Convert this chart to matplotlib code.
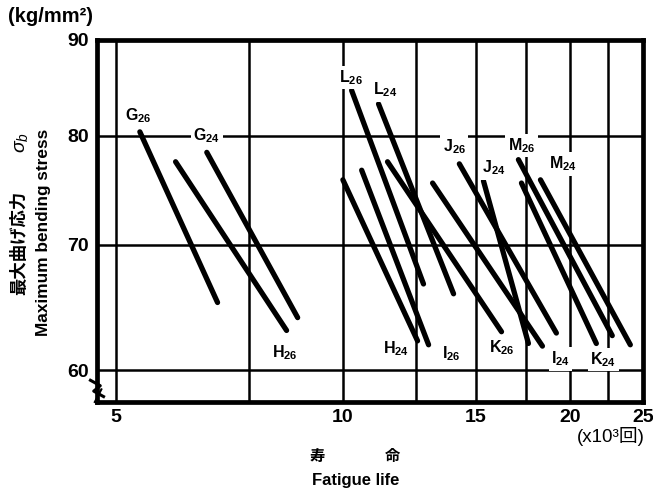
import numpy as np
import matplotlib.pyplot as plt
from matplotlib.ticker import NullFormatter, FixedLocator

plt.rcParams['font.family'] = ['Liberation Sans', 'Noto Sans CJK JP']
plt.rcParams['mathtext.default'] = 'regular'

# fatigue life (x10^3 cycles) and bending stress (kg/mm2) at both ends of each line
names = ['G26', 'G24', 'H26', 'L26', 'L24', 'H24', 'I26',
         'K26', 'I24', 'J26', 'J24', 'M26', 'K24', 'M24']
life_start = [5.38, 6.60, 6.00, 10.27, 11.15, 10.0, 10.59,
              11.46, 13.15, 14.27, 15.36, 17.09, 17.25, 18.28]
life_end = [6.82, 8.71, 8.42, 12.79, 14.02, 12.56, 12.99,
            16.23, 18.39, 19.19, 17.62, 22.76, 21.68, 24.05]
stress_start = [80.4, 78.4, 77.5, 84.6, 83.2, 75.8, 76.7,
                77.5, 75.5, 77.3, 75.7, 77.7, 75.5, 75.8]
stress_end = [65.2, 64.0, 63.0, 66.7, 65.9, 62.2, 61.9,
              62.9, 61.8, 62.8, 62.0, 62.6, 62.0, 61.9]

x_ticks = [5, 10, 15, 20, 25]
x_minor = [7.5, 12.5, 17.5, 22.5]
y_ticks = [60, 70, 80, 90]

# where the label sits: at the line's start or end, offset in pixels
label_pos = {
    'G26': ('start', -2, 16), 'G24': ('start', 0, 17), 'H26': ('end', -2, -22),
    'L26': ('start', -1, 13), 'L24': ('start', 7, 14), 'J26': ('start', -5, 17),
    'J24': ('start', 10, 13), 'M26': ('start', 3, 14), 'M24': ('start', 22, 16),
    'H24': ('end', -22, -8), 'I26': ('end', 23, -9), 'K26': ('end', 0, -16),
    'I24': ('end', 18, -13), 'K24': ('end', 7, -16),
}

fig = plt.figure(figsize=(6.53, 4.93), dpi=100)
ax = fig.add_axes([97 / 653, 91 / 493, 546 / 653, 362 / 493])
ax.set_xscale('log')
ax.set_yscale('log')
ax.set_xlim(4.72, 25)
ax.set_ylim(57.7, 90)

ax.xaxis.set_major_locator(FixedLocator(x_ticks))
ax.xaxis.set_minor_locator(FixedLocator(x_minor))
ax.set_xticklabels([str(t) for t in x_ticks], fontweight='bold')
ax.xaxis.set_minor_formatter(NullFormatter())
ax.yaxis.set_major_locator(FixedLocator(y_ticks))
ax.yaxis.set_minor_locator(FixedLocator([]))
ax.set_yticklabels([str(t) for t in y_ticks], fontweight='bold')
ax.yaxis.set_minor_formatter(NullFormatter())
ax.tick_params(which='both', length=0, labelsize=14)
ax.tick_params(axis='y', pad=6)
ax.tick_params(axis='x', pad=5)

ax.grid(True, which='both', color='black', linewidth=1.8)
ax.set_axisbelow(True)
for sp in ax.spines.values():
    sp.set_linewidth(3.4)

for i, name in enumerate(names):
    ax.plot([life_start[i], life_end[i]], [stress_start[i], stress_end[i]],
            color='black', linewidth=3.8, solid_capstyle='round', zorder=3)
    where, dx, dy = label_pos[name]
    if where == 'start':
        xy = (life_start[i], stress_start[i])
    else:
        xy = (life_end[i], stress_end[i])
    ax.annotate(name[0] + '$_{' + name[1:] + '}$', xy=xy, xytext=(dx, dy),
                textcoords='offset pixels', ha='center', va='center',
                fontsize=11.5, fontweight='bold', zorder=4,
                bbox=dict(boxstyle='square,pad=0.15', facecolor='white', edgecolor='none'))

# axis break mark at the lower left corner
ax.plot([-0.012, 0.006, -0.006, 0.012], [0.06, 0.045, 0.03, 0.015],
        transform=ax.transAxes, color='black', linewidth=2.2, clip_on=False, zorder=5)
ax.plot([-0.004, 0.008], [0.0, 0.035], transform=ax.transAxes,
        color='black', linewidth=1.5, clip_on=False, zorder=5)

fig.text(8 / 653, 1 - 17 / 493, '(kg/mm²)', fontsize=14.5, fontweight='bold',
         ha='left', va='center')
fig.text(19 / 653, 1 - 243 / 493, '最大曲げ応力', fontsize=12.5,
         fontweight='bold', rotation=90, ha='center', va='center')
fig.text(21 / 653, 1 - 142 / 493, '$\\sigma_b$', fontsize=14, fontstyle='italic',
         rotation=90, ha='center', va='center')
fig.text(44 / 653, 1 - 232 / 493, 'Maximum bending stress', fontsize=12.4,
         fontweight='bold', rotation=90, ha='center', va='center')
fig.text(317 / 653, 1 - 457 / 493, '寿', fontsize=11,
         fontweight='bold', ha='center', va='center')
fig.text(392 / 653, 1 - 457 / 493, '命', fontsize=11,
         fontweight='bold', ha='center', va='center')
fig.text(356 / 653, 1 - 480 / 493, 'Fatigue life', fontsize=12,
         fontweight='bold', ha='center', va='center')
fig.text(645 / 653, 1 - 437 / 493, '(x10³回)', fontsize=13.5,
         ha='right', va='center')

fig.savefig('out.png', dpi=100)
